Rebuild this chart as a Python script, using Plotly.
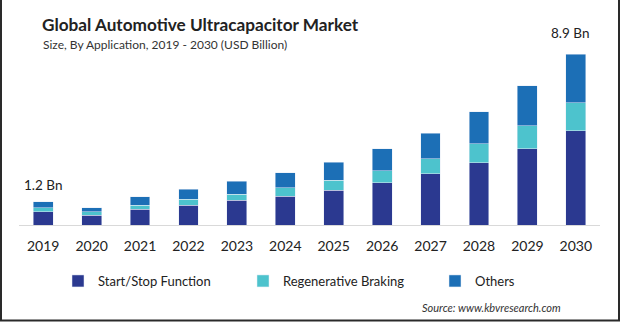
import plotly.graph_objects as go

years = ["2019", "2020", "2021", "2022", "2023", "2024", "2025", "2026", "2027", "2028", "2029", "2030"]
start_stop = [0.68, 0.52, 0.83, 1.04, 1.30, 1.51, 1.82, 2.19, 2.66, 3.23, 3.96, 4.90]
regen = [0.21, 0.16, 0.21, 0.31, 0.31, 0.42, 0.52, 0.63, 0.78, 0.99, 1.20, 1.46]
others = [0.31, 0.21, 0.42, 0.52, 0.68, 0.78, 0.94, 1.15, 1.35, 1.67, 2.08, 2.54]

W, H = 620, 322
L, R, T, B = 19, 20, 40, 97
pw, ph = W - L - R, H - T - B

def px(x):
    return (x - L) / pw

def py(y):
    return (H - B - y) / ph

fig = go.Figure()
fig.add_bar(x=years, y=start_stop, name="Start/Stop Function", marker_color="#2B3990", legend="legend")
fig.add_bar(x=years, y=regen, name="Regenerative Braking", marker_color="#4DC3CD", legend="legend2")
fig.add_bar(x=years, y=others, name="Others", marker_color="#1C6FB6", legend="legend3")

font = "Lato, Open Sans, sans-serif"

def leg(xpix):
    return dict(orientation="h", x=px(xpix), y=py(281), yanchor="middle", xanchor="left",
                font=dict(size=13, color="#222"), itemwidth=30, bgcolor="rgba(0,0,0,0)")

fig.update_layout(
    width=W, height=H, barmode="stack", bargap=0.59,
    margin=dict(l=L, r=R, t=T, b=B),
    paper_bgcolor="white", plot_bgcolor="white",
    font=dict(family=font, color="#222222"),
    showlegend=True,
    legend=leg(58), legend2=leg(243), legend3=leg(435),
    xaxis=dict(range=[-0.5, 11.5], showline=True, linecolor="#D9D9D9", linewidth=1,
               ticks="", ticklabelstandoff=8, tickfont=dict(size=14, color="#222"),
               showgrid=False, fixedrange=True),
    yaxis=dict(range=[0, ph / 19.2], visible=False, showgrid=False),
)

ann = [
    dict(text="<b>Global Automotive Ultracapacitor Market</b>", x=px(40), y=py(25), size=17.2, color="#222"),
    dict(text="Size, By Application, 2019 - 2030 (USD Billion)", x=px(41), y=py(44), size=12, color="#333"),
    dict(text="1.2 Bn", x=px(22), y=py(185), size=13.5, color="#222"),
    dict(text="8.9 Bn", x=px(549), y=py(33), size=13.5, color="#222"),
    dict(text="<i>Source: www.kbvresearch.com</i>", x=px(420), y=py(307), size=11, color="#333"),
]
for a in ann:
    fig.add_annotation(text=a["text"], x=a["x"], y=a["y"], xref="paper", yref="paper",
                       xanchor="left", yanchor="middle", showarrow=False,
                       font=dict(size=a["size"], color=a["color"], family=font))

# frame border
fig.add_shape(type="rect", xref="paper", yref="paper", x0=px(1), x1=px(619), y0=py(320.5), y1=py(-2),
              line=dict(color="#2A2A2A", width=2), layer="above")

fig.write_html("out.html")
